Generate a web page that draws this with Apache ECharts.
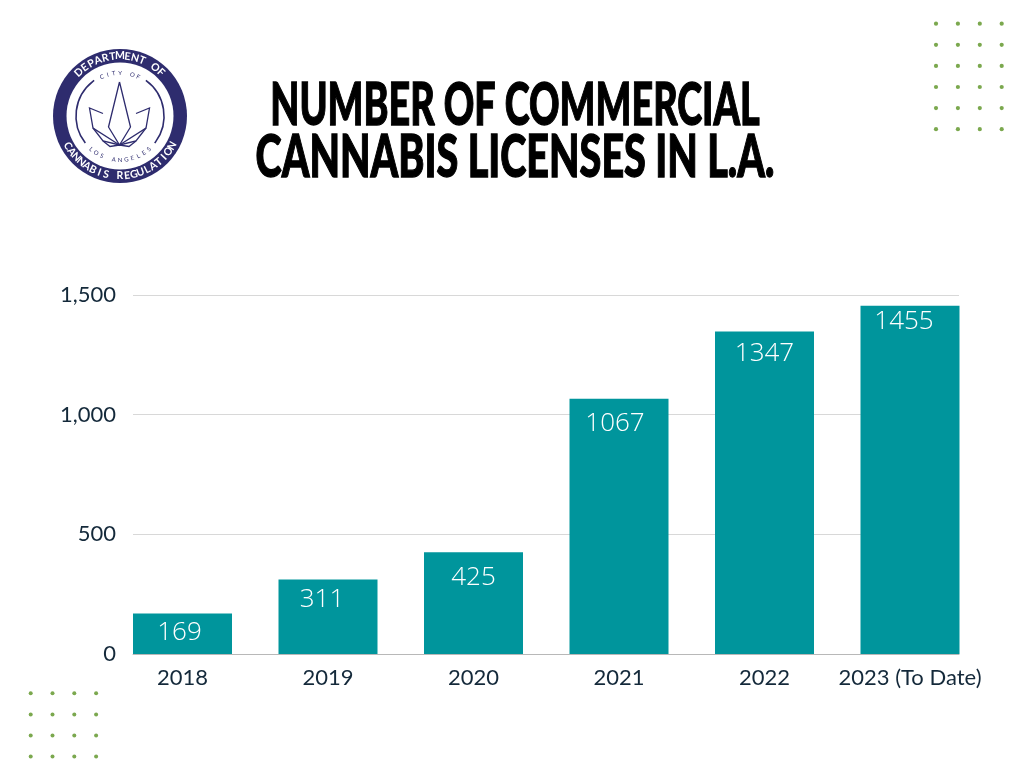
<!DOCTYPE html>
<html lang="en">
  <head>
    <meta charset="UTF-8" />
    <title>Number of Commercial Cannabis Licenses in L.A.</title>
    <script src="https://cdn.jsdelivr.net/npm/echarts@6/dist/echarts.min.js"></script>
    <style>
      html, body { margin: 0; background: #fff; }
      #main { width: 1024px; height: 768px; }
    </style>
  </head>
  <body>
    <div id="main"></div>
    <script>
      const years = ["2018", "2019", "2020", "2021", "2022", "2023 (To Date)"]
      const licenses = [169, 311, 425, 1067, 1347, 1455]
      const yTicks = [0, 500, 1000, 1500]
      const titleLines = ["NUMBER OF COMMERCIAL", "CANNABIS LICENSES IN L.A."]

      // the labels sit a bit unevenly inside the bars in the original
      const labelNudge = [[-3, 6], [-6, 7], [0, 12], [-4, 12], [0, 9], [-6, 3]]
      // no condensed font here, so the title is squeezed line by line
      const titleSqueeze = [0.64, 0.67]

      const navy = "#2e2c6e"
      const ink = "#14293a"
      const green = "#7ba84e"

      const chart = echarts.init(document.getElementById("main"))

      // dot grids in the corners
      function dots(x0, y0, cols, rows, stepX, stepY, r) {
        const out = []
        for (let c = 0; c < cols; c++) {
          for (let w = 0; w < rows; w++) {
            out.push({
              type: "circle",
              shape: { cx: x0 + c * stepX, cy: y0 + w * stepY, r: r },
              style: { fill: green }
            })
          }
        }
        return out
      }

      // letters placed one by one along a circle
      function arcText(text, cx, cy, radius, midDeg, stepDeg, size, bottom, color, weight) {
        const out = []
        const start = midDeg - ((text.length - 1) * stepDeg) / 2
        for (let i = 0; i < text.length; i++) {
          const deg = start + i * stepDeg
          const rad = (deg * Math.PI) / 180
          out.push({
            type: "text",
            x: cx + radius * Math.sin(rad),
            y: cy - radius * Math.cos(rad),
            rotation: bottom ? -((deg - 180) * Math.PI) / 180 : -rad,
            style: {
              text: text[i],
              fill: color,
              font: weight + " " + size + 'px "Lato"',
              align: "center",
              verticalAlign: "middle"
            }
          })
        }
        return out
      }

      function leaf(points) {
        return {
          type: "polyline",
          shape: { points: points },
          style: { stroke: navy, lineWidth: 1.3, fill: "none" }
        }
      }

      const lx = 120
      const ly = 116
      const logo = [
        { type: "circle", shape: { cx: lx, cy: ly, r: 67 }, style: { fill: navy } },
        { type: "circle", shape: { cx: lx, cy: ly, r: 53.5 }, style: { fill: "#fff" } },
        {
          type: "arc",
          shape: { cx: lx, cy: ly, r: 44, startAngle: (Math.PI * 142) / 180, endAngle: (Math.PI * 234) / 180 },
          style: { stroke: navy, lineWidth: 1.6, fill: "none" }
        },
        {
          type: "arc",
          shape: { cx: lx, cy: ly, r: 44, startAngle: (Math.PI * 306) / 180, endAngle: (Math.PI * 398) / 180 },
          style: { stroke: navy, lineWidth: 1.6, fill: "none" }
        },
        leaf([[119.5, 82], [108.5, 127], [119.5, 145], [130.5, 127], [119.5, 82]]),
        leaf([[119.5, 145], [93, 128], [89.5, 108], [103, 113.5]]),
        leaf([[119.5, 145], [146, 128], [149.5, 108], [136, 113.5]]),
        leaf([[119.5, 145], [103, 141], [93, 128]]),
        leaf([[119.5, 145], [136, 141], [146, 128]]),
        leaf([[103, 141], [110, 146.5], [119.5, 145], [129, 146.5], [136, 141]])
      ]
        .concat(arcText("DEPARTMENT OF", lx, ly, 60, 0, 7.2, 10.5, false, "#fff", "700"))
        .concat(arcText("CANNABIS REGULATION", lx, ly, 60, 180, -6.7, 10.5, true, "#fff", "700"))
        .concat(arcText("CITY OF", lx, ly, 43, 0, 8.3, 6, false, navy, "400"))
        .concat(arcText("LOS ANGELES", lx, ly, 44, 180, -8.2, 6, true, navy, "400"))

      const titleText = titleLines.map((line, i) => ({
        type: "text",
        x: 515,
        y: 106 + i * 52,
        scaleX: titleSqueeze[i],
        style: {
          text: line,
          fill: "#000",
          stroke: "#000",
          lineWidth: 1.3,
          font: '900 59px "Lato"',
          align: "center",
          verticalAlign: "middle"
        }
      }))

      chart.setOption({
        animation: false,
        backgroundColor: "#fff",
        graphic: logo
          .concat(titleText)
          .concat(dots(936, 23.7, 4, 6, 21.9, 21.1, 2.1))
          .concat(dots(30.7, 693.3, 4, 4, 21.8, 21.1, 2)),
        // first grid: the gridlines and the value scale, second one: the bars
        grid: [
          { left: 133, right: 65, top: 295, height: 359 },
          { left: 109.75, width: 873, top: 295, height: 359 }
        ],
        xAxis: [
          {
            gridIndex: 0,
            type: "category",
            data: [""],
            axisTick: { show: false },
            axisLabel: { show: false },
            axisLine: { lineStyle: { color: "#b8b8b8", width: 1 } }
          },
          {
            gridIndex: 1,
            type: "category",
            data: years,
            axisLine: { show: false },
            axisTick: { show: false },
            axisLabel: {
              color: ink,
              fontFamily: "Lato",
              fontSize: 22,
              margin: 13,
              interval: 0
            }
          }
        ],
        yAxis: [
          {
            gridIndex: 0,
            type: "value",
            min: yTicks[0],
            max: yTicks[yTicks.length - 1],
            interval: yTicks[1],
            axisLine: { show: false },
            axisTick: { show: false },
            splitLine: { lineStyle: { color: "#d8d8d8", width: 1 } },
            axisLabel: {
              color: ink,
              fontFamily: "Lato",
              fontSize: 22,
              margin: 17,
              formatter: (v) => v.toLocaleString("en-US")
            }
          },
          {
            gridIndex: 1,
            type: "value",
            min: yTicks[0],
            max: yTicks[yTicks.length - 1],
            show: false
          }
        ],
        series: [
          {
            type: "bar",
            xAxisIndex: 1,
            yAxisIndex: 1,
            barWidth: 99,
            itemStyle: { color: "#00959c" },
            data: licenses.map((v, i) => ({
              value: v,
              label: { offset: labelNudge[i] }
            })),
            label: {
              show: true,
              position: "insideTop",
              distance: 0,
              color: "#fff",
              fontFamily: "Open Sans",
              fontWeight: 300,
              fontSize: 26
            }
          }
        ]
      })
    </script>
  </body>
</html>
